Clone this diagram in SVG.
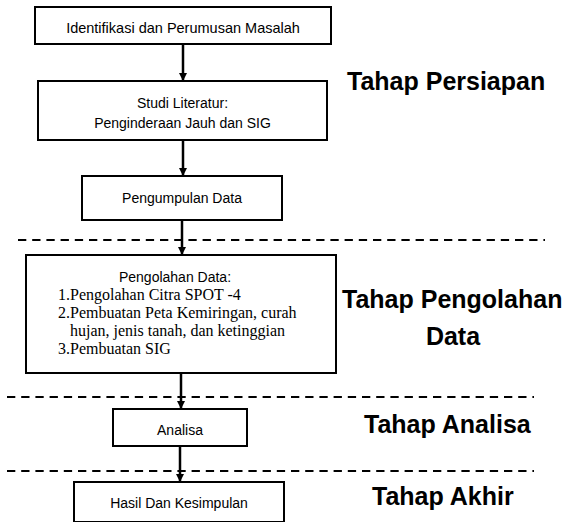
<svg xmlns="http://www.w3.org/2000/svg" width="566" height="522" viewBox="0 0 566 522">
<style>
.box{fill:#fff;stroke:#000;stroke-width:2}
.t{font-family:"Liberation Sans",Arial,sans-serif;font-size:14px;fill:#000;text-anchor:middle}
.tm{font-family:"Liberation Serif","Times New Roman",serif;font-size:16px;fill:#000}
.stage{font-family:"Liberation Sans",Arial,sans-serif;font-size:25px;font-weight:bold;fill:#000}
.dash{stroke:#000;stroke-width:2;stroke-dasharray:8.3 5.9;fill:none}
.conn{stroke:#000;stroke-width:2.5;fill:none;marker-end:url(#ah)}
</style>
<defs>
<marker id="ah" markerUnits="userSpaceOnUse" markerWidth="10" markerHeight="10" refX="8" refY="4" orient="auto">
<path d="M0,0 L8,4 L0,8 z" fill="#000"/>
</marker>
</defs>
<rect width="566" height="522" fill="#fff"/>
<g id="dividers">
<line class="dash" x1="18" y1="240" x2="545" y2="240"/>
<line class="dash" x1="7" y1="397" x2="534" y2="397"/>
<line class="dash" x1="7" y1="471" x2="534" y2="471"/>
</g>
<g id="connectors">
<line class="conn" x1="183" y1="44" x2="183" y2="81"/>
<line class="conn" x1="183" y1="140" x2="183" y2="176"/>
<line class="conn" x1="182" y1="220" x2="182" y2="255"/>
<line class="conn" x1="181" y1="373" x2="181" y2="409"/>
<line class="conn" x1="180" y1="446" x2="180" y2="482"/>
</g>
<g id="n1">
<rect class="box" x="35" y="7" width="296" height="37"/>
<text class="t" x="183" y="33" style="font-size:14.5px">Identifikasi dan Perumusan Masalah</text>
</g>
<g id="n2">
<rect class="box" x="38" y="81" width="289" height="59"/>
<text class="t" x="182.5" y="108">Studi Literatur:</text>
<text class="t" x="182.5" y="128">Penginderaan Jauh dan SIG</text>
</g>
<g id="n3">
<rect class="box" x="82" y="176" width="200" height="44"/>
<text class="t" x="182" y="203">Pengumpulan Data</text>
</g>
<g id="n4">
<rect class="box" x="26" y="255" width="310" height="118"/>
<text class="t" x="175" y="282">Pengolahan Data:</text>
<text class="tm" x="58" y="300">1.Pengolahan Citra SPOT -4</text>
<text class="tm" x="58" y="318">2.Pembuatan Peta Kemiringan, curah</text>
<text class="tm" x="70" y="336">hujan, jenis tanah, dan ketinggian</text>
<text class="tm" x="58" y="354">3.Pembuatan SIG</text>
</g>
<g id="n5">
<rect class="box" x="113" y="409" width="134" height="37"/>
<text class="t" x="180" y="435">Analisa</text>
</g>
<g id="n6">
<rect class="box" x="74" y="482" width="210" height="40"/>
<text class="t" x="179" y="508">Hasil Dan Kesimpulan</text>
</g>
<g id="stages">
<text class="stage" x="347" y="90">Tahap Persiapan</text>
<text class="stage" x="342" y="308">Tahap Pengolahan</text>
<text class="stage" x="453" y="345" text-anchor="middle">Data</text>
<text class="stage" x="364" y="433">Tahap Analisa</text>
<text class="stage" x="372" y="505">Tahap Akhir</text>
</g>
</svg>
